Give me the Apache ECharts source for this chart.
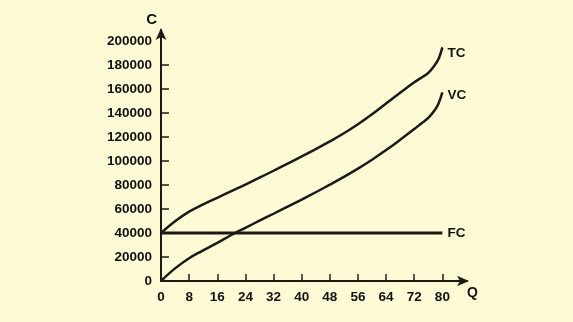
<!DOCTYPE html>
<html><head><meta charset="utf-8">
<script src="https://cdn.jsdelivr.net/npm/echarts@6/dist/echarts.min.js"></script>
<style>html,body{margin:0;padding:0;background:#fdfad5;}#c{width:573px;height:322px;}</style>
</head><body><div id="c"></div>
<script>
const Q  = [0,4,8,12,16,20,24,28,32,36,40,44,48,52,56,60,64,68,72,74,76,78,79,80];
const VC = [0,10500,19000,25500,31800,38300,44300,50200,56000,61900,67800,73900,80200,86700,93600,101000,109000,117600,126500,131200,135800,143000,148500,157000];
const TC = [40000,49800,57800,63800,69300,74800,80300,86000,91800,97700,103700,109800,116200,123000,130500,138800,147800,156800,165500,169300,173300,180500,185500,194500];
const FC = [40000,40000,40000,40000,40000,40000,40000,40000,40000,40000,40000,40000,40000,40000,40000,40000,40000,40000,40000,40000,40000,40000,40000,40000];
const xTicks = [0,8,16,24,32,40,48,56,64,72,80];
const yTicks = [0,20000,40000,60000,80000,100000,120000,140000,160000,180000,200000];
const seriesNames = ['TC','VC','FC'];

const pair = arr => Q.map((q,i)=>[q,arr[i]]);
const ink = '#1c1a16';
const lbl = {fontFamily:'Liberation Sans, Arial, sans-serif', fontWeight:'bold', fontSize:13.5, color:'#111'};
const chart = echarts.init(document.getElementById('c'));
function lineSeries(name, arr, width, smooth, offY){
  return {
    name, type:'line', data:pair(arr), showSymbol:false, smooth:smooth,
    lineStyle:{color:ink, width:width}, silent:true, z:3,
    endLabel:{show:true, formatter:name, distance:5, offset:[0,offY], ...lbl}
  };
}
chart.setOption({
  backgroundColor:'#fdfad5',
  animation:false,
  grid:{left:161, right:106, top:30, bottom:41, containLabel:false},
  xAxis:{
    type:'value', min:0, max:87, interval:8,
    name:'Q', nameLocation:'end', nameGap:0,
    nameTextStyle:{...lbl, fontSize:14, align:'left', verticalAlign:'top', padding:[5,0,0,0]},
    axisLine:{show:true, symbol:['none','arrow'], symbolSize:[8,12], symbolOffset:[0,2], lineStyle:{color:ink, width:2}},
    axisTick:{show:true, inside:true, length:7, lineStyle:{color:ink, width:1.5}, customValues:xTicks.slice(1)},
    axisLabel:{...lbl, margin:9, customValues:xTicks, formatter:v=>String(v)},
    splitLine:{show:false}
  },
  yAxis:{
    type:'value', min:0, max:209000, interval:20000,
    name:'C', nameLocation:'end', nameGap:3,
    nameTextStyle:{...lbl, fontSize:15, align:'right', padding:[0,4,0,0]},
    axisLine:{show:true, symbol:['none','arrow'], symbolSize:[8,12], symbolOffset:[0,2], lineStyle:{color:ink, width:2}},
    axisTick:{show:true, inside:true, length:8, lineStyle:{color:ink, width:1.5}, customValues:yTicks.slice(1,-1)},
    axisLabel:{...lbl, margin:9, customValues:yTicks, formatter:v=>String(v)},
    splitLine:{show:false}
  },
  series:[
    lineSeries(seriesNames[0], TC, 2.5, 0.4, 6),
    lineSeries(seriesNames[1], VC, 2.5, 0.4, 3),
    lineSeries(seriesNames[2], FC, 3, false, 0)
  ]
});
</script></body></html>
